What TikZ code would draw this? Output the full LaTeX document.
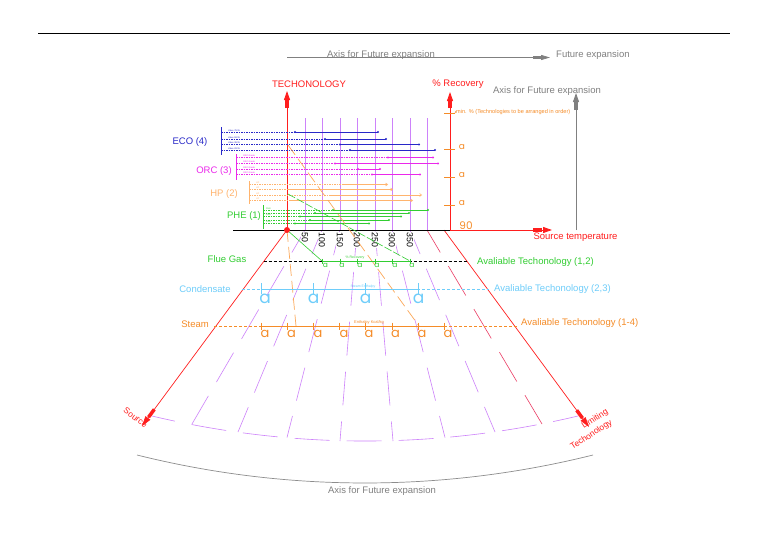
\documentclass[tikz,border=0pt]{standalone}
\usepackage{fontspec}
\setmainfont{Liberation Sans}
\newfontfamily\geofont{Poppins}
\usetikzlibrary{arrows.meta,calc}
\definecolor{cred}{RGB}{255,30,30}
\definecolor{cgray}{RGB}{128,128,128}
\definecolor{cblue}{RGB}{40,40,200}
\definecolor{cmag}{RGB}{235,40,235}
\definecolor{chp}{RGB}{255,180,110}
\definecolor{cgreen}{RGB}{50,205,50}
\definecolor{ccyan}{RGB}{110,205,250}
\definecolor{corange}{RGB}{245,140,40}
\definecolor{cfan}{RGB}{205,130,250}
\definecolor{cpink}{RGB}{235,60,100}
\begin{document}
\begin{tikzpicture}[x=1pt,y=-1pt,
  lbl/.style={font=\fontsize{9.5}{11}\selectfont, inner sep=0pt},
  tinyl/.style={font=\fontsize{2.2}{2.5}\selectfont, inner sep=0pt},
  templbl/.style={font=\fontsize{8.8}{9}\selectfont, inner sep=0.6pt, fill=white, rotate=-90, anchor=west},
  fanline/.style={draw=cfan, line width=0.6pt, dash pattern=on 34pt off 16pt, dash phase=8pt},
  axisred/.style={cred, line width=0.9pt, -{Triangle[length=9pt,width=6pt]}},
  axisgray/.style={cgray, line width=0.9pt, -{Triangle[length=9pt,width=6pt]}},
  techdash/.style={line width=0.7pt, dash pattern=on 1.5pt off 1pt},
  techsolid/.style={line width=0.7pt},
  rowdash/.style={line width=0.7pt, dash pattern=on 3pt off 2pt},
  longdash/.style={line width=0.7pt, dash pattern=on 12pt off 5pt}
]
\useasboundingbox (0,0) rectangle (768,543);
\fill[white] (0,0) rectangle (768,543);

% top rule
\draw[black, line width=0.6pt] (38,33) -- (730,33);

% top gray axis
\coordinate (ga0) at (287,57.5);
\coordinate (ga1) at (550,57.5);
\draw[cgray, line width=0.8pt, -{Triangle[length=9pt,width=5pt]}] (ga0) -- (ga1);
\draw[cgray, line width=3.5pt] (533,57.5) -- (542,57.5);
\node[lbl, cgray] (axtop) at (381,55) {Axis for Future expansion};
\node[lbl, cgray, anchor=west] (fexp) at (556,55) {Future expansion};

% axes
\coordinate (O) at (287,230);
\coordinate (Ttop) at (287,91);
\coordinate (R0) at (450,230);
\coordinate (Rtop) at (450,92);
\coordinate (G0) at (576,230);
\coordinate (Gtop) at (576,93);
\coordinate (B0) at (233,230);
\coordinate (Send) at (552,230);

% tech area vertical purple lines
\foreach \x in {305,322,340,357,375,392,410,427}
  \draw[cfan, line width=0.6pt] (\x,118) -- (\x,230);

% fan lines
\foreach \t/\b/\by in {305/192/424, 322/238/432, 340/287/437.5, 357/340/441, 375/393/441, 392/445/437.5, 410/495/432}
  \draw[fanline] (\t,230) -- (\b,\by);
\draw[fanline, draw=cpink] (427,230) -- (542,424);

% bottom purple arc
\draw[cfan, line width=0.6pt, dash pattern=on 35pt off 17pt, dash phase=11.5pt]
  (152,416) .. controls (292.1,449.35) and (437.9,449.35) .. (578,416);
% bottom gray arc
\draw[cgray!90, line width=0.7pt]
  (137,455) .. controls (286.6,492.3) and (443.4,492.3) .. (593,455);
\node[lbl, cgray] (axbot) at (382,491) {Axis for Future expansion};

% red fan edges
\coordinate (src) at (142,426);
\coordinate (Rs) at (444,230);
\coordinate (lim) at (589,427);
\draw[cred, line width=0.7pt, -{Triangle[length=10pt,width=6pt]}] (O) -- (src);
\draw[cred, line width=3.5pt] ($(O)!0.915!(src)$) -- ($(O)!0.955!(src)$);
\draw[cred, line width=0.7pt, -{Triangle[length=10pt,width=6pt]}] (Rs) -- (lim);
\draw[cred, line width=3.5pt] ($(Rs)!0.915!(lim)$) -- ($(Rs)!0.955!(lim)$);
\node[font=\fontsize{8.5}{9}\selectfont, cred, rotate=-36, inner sep=0pt] (srcl) at (135.5,417.5) {Source};
\node[font=\fontsize{8.5}{9}\selectfont, cred, rotate=33, inner sep=0pt] (liml1) at (595,419) {Limiting};
\node[font=\fontsize{8.5}{9}\selectfont, cred, rotate=33, inner sep=0pt] (liml2) at (591.5,435) {Techonology};

% technology axis
\draw[axisred] (O) -- (Ttop);
\draw[cred, line width=4pt] (287,108) -- (287,99);
\node[lbl, cred] (tech) at (309,84) {TECHONOLOGY};

% recovery axis
\draw[axisred] (R0) -- (Rtop);
\draw[cred, line width=4pt] (450,108) -- (450,100);
\node[lbl, cred] (rec) at (458,84) {\% Recovery};

% gray vertical axis
\draw[axisgray] (G0) -- (Gtop);
\draw[cgray, line width=3.5pt] (576,110) -- (576,101);
\node[lbl, cgray] (axright) at (547,91) {Axis for Future expansion};

% baseline and source temperature
\draw[black, line width=0.8pt] (B0) -- (R0);
\draw[axisred] (R0) -- (Send);
\draw[cred, line width=3.5pt] (533,230) -- (542,230);
\node[lbl, cred] (stemp) at (575.5,237.5) {Source temperature};

% recovery ticks
\foreach \y in {113,149,177.5,205.5}
  \draw[corange, line width=0.8pt] (444,\y) -- (455,\y);
\draw[corange, line width=0.6pt] (455,113) -- (456,111);
\node[font=\fontsize{5.6}{6}\selectfont, corange, anchor=west, inner sep=0pt] (minrec) at (456,112.5) {min. \% (Technologies to be arranged in order)};
\foreach \y/\n in {147/ra1,175.5/ra2,203.5/ra3}
  \node[font=\geofont\fontsize{9}{10}\selectfont, corange, inner sep=0pt] (\n) at (462,\y) {a};
\node[font=\geofont\fontsize{10.5}{11}\selectfont, corange, inner sep=0pt] (r90) at (466,225.5) {90};

% temperature labels
\foreach \x/\v in {305/50,322/100,340/150,357/200,375/250,392/300,410/350}
  \node[templbl] (t\v) at (\x,232) {\v};

% ---- technology lines ----
% ECO
\draw[cblue, line width=0.9pt] (221,127) -- (221,155);
\node[lbl, cblue] (eco) at (190,142) {ECO (4)};
\foreach \y/\d/\e/\v in {132/295/378/75, 139/325/386/50, 144.5/340/419/35, 150/350/435/20} {
  \draw[cblue, techdash] (221,\y) -- (\d,\y);
  \draw[cblue, techsolid] (\d,\y) -- (\e,\y);
  \fill[cblue] (\d,\y) circle (1.2);
  \fill[cblue] (\e,\y) circle (1.2);
  \node[tinyl, cblue, anchor=south west] at (228,\y-0.6) {Value \v/35};
}
% ORC
\draw[cmag, line width=0.9pt] (236,154) -- (236,179.5);
\node[lbl, cmag] (orc) at (214,171) {ORC (3)};
\foreach \y/\d/\e in {157.5/388/433, 163.5/335/438, 169/358/380, 174.5/372/420} {
  \draw[cmag, techdash] (236,\y) -- (\d,\y);
  \draw[cmag, techsolid] (\d,\y) -- (\e,\y);
  \fill[cmag] (\d,\y) circle (1.2);
  \fill[cmag] (\e,\y) circle (1.2);
  \node[tinyl, cmag, anchor=south west] at (243,\y-0.6) {ORC Grade};
}
% HP
\draw[chp, line width=0.9pt] (249,181) -- (249,203.5);
\node[lbl, chp] (hp) at (224,194) {HP (2)};
\foreach \y/\d/\e in {184.5/342/388, 189.5/288/393, 195/330/422, 200.5/290/413} {
  \draw[chp, techdash] (249,\y) -- (\d,\y);
  \draw[chp, line width=0.6pt, -{Straight Barb[length=2pt,width=3pt]}] (\d,\y) -- (\e,\y);
  \node[tinyl, chp, anchor=south west] at (256,\y-0.6) {HP};
}
% PHE
\draw[cgreen, line width=0.9pt] (263,205) -- (263,229);
\node[lbl, cgreen] (phe) at (244,216) {PHE (1)};
\foreach \y/\d/\e in {210/333/428, 213/315/409, 216.5/300/401, 220/310/389, 223.5/295/369} {
  \draw[cgreen, techdash] (263,\y) -- (\d,\y);
  \draw[cgreen, techsolid] (\d,\y) -- (\e,\y);
  \fill[cgreen] (\d,\y) circle (1.2);
  \fill[cgreen] (\e,\y) circle (1.2);
}
\node[tinyl, cgreen, anchor=south west] at (266,209.4) {PHE};
\node[tinyl, cgreen, anchor=south west] at (266,215.9) {PHE};
\node[tinyl, cgreen, anchor=south west] at (266,222.9) {PHE};

% connectors from technology area
\coordinate (fgA) at (322,261);
\coordinate (fgB) at (410,261);
\coordinate (hpA) at (288,194);
\coordinate (orA) at (288,145);
\coordinate (stA) at (419,326);
\coordinate (stB) at (296,326);
\draw[cgreen, line width=0.6pt] (O) -- (fgA);
\draw[cgreen, line width=0.6pt, dash pattern=on 8pt off 2pt] (hpA) -- (fgB);
\draw[chp!70!corange, longdash] (orA) -- (stA);
\draw[chp!70!corange, longdash] (O) -- (stB);

% red dot
\fill[cred] (O) circle (3);

% ---- Flue gas row ----
\draw[black, rowdash] (263.5,261) -- (467.5,261);
\draw[cgreen, line width=0.8pt] (fgA) -- (fgB);
\foreach \x in {322,340,357,375,392,410}
  \draw[cgreen, line width=0.6pt] (\x,258.5) -- (\x,263.5);
\foreach \x in {325.5,342,360,377,395,412}
  \node[font=\geofont\fontsize{7.5}{8}\selectfont, cgreen, inner sep=0pt] at (\x,265.5) {a};
\node[tinyl, cgreen, font=\fontsize{3.5}{4}\selectfont] (fgt) at (355,257.5) {\% Recovery};
\node[lbl, cgreen] (flue) at (227,259) {Flue Gas};
\node[lbl, cgreen, anchor=west] (av12) at (477,262) {Avaliable Techonology (1,2)};

% ---- Condensate row ----
\draw[ccyan, rowdash] (242,289) -- (489,289);
\draw[ccyan, line width=0.8pt] (261,289) -- (418,289);
\foreach \x in {261,313,365,418}
  \draw[ccyan, line width=0.7pt] (\x,283) -- (\x,294);
\foreach \x in {265,313.5,365.5,418.5}
  \node[font=\geofont\fontsize{17}{18}\selectfont, ccyan, inner sep=0pt] at (\x,299) {a};
\node[tinyl, ccyan, font=\fontsize{3.5}{4}\selectfont] (cdt) at (363,287) {Steam Enthalpy};
\node[lbl, ccyan] (cond) at (205,289) {Condensate};
\node[lbl, ccyan, anchor=west] (av23) at (494,289) {Avaliable Techonology (2,3)};

% ---- Steam row ----
\draw[corange, rowdash] (214,326) -- (517,326);
\draw[corange, line width=0.8pt] (261,326) -- (444,326);
\foreach \x in {261,287,313,339,365,392,418,444}
  \draw[corange, line width=0.7pt] (\x,322.5) -- (\x,329.5);
\foreach \x in {265,291.5,318,344,369,395.5,422,448}
  \node[font=\geofont\fontsize{13}{14}\selectfont, corange, inner sep=0pt] at (\x,334) {a};
\node[tinyl, corange, font=\fontsize{4}{5}\selectfont] (stt) at (369,322) {Enthalpy Kcal/kg};
\node[lbl, corange] (steam) at (195,324) {Steam};
\node[lbl, corange, anchor=west] (av14) at (521,323) {Avaliable Techonology (1-4)};

\end{tikzpicture}
\end{document}
